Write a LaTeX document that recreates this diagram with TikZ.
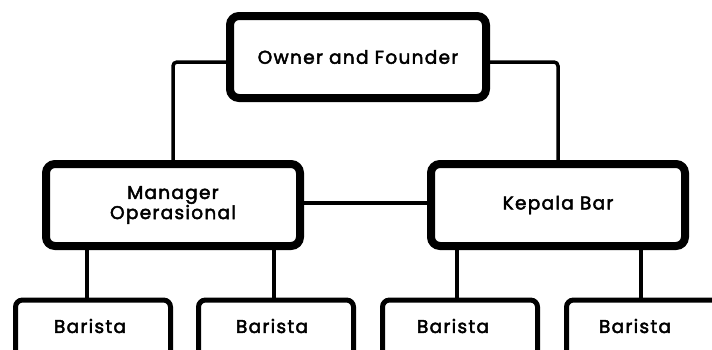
\documentclass[tikz,border=0pt]{standalone}
\usepackage{fontspec}
\setmainfont{Poppins}
\newcommand{\boxfont}{\fontsize{18.5}{18}\selectfont\addfontfeature{LetterSpace=7,FakeBold=2.5}}
\begin{document}
\begin{tikzpicture}[x=1pt,y=-1pt,
  bigbox/.style={draw,line width=8pt,rounded corners=9pt,minimum width=254pt,minimum height=82pt,align=center,font=\boxfont},
  smallbox/.style={draw,line width=5pt,rounded corners=7pt,minimum width=155pt,minimum height=70pt},
  conn/.style={line width=3.5pt,rounded corners=4pt}]
\useasboundingbox (0,0) rectangle (712,349);
\clip (0,0) rectangle (712,349);
\node [bigbox,minimum width=256pt] (owner) at (358,57) {Owner and Founder};
\node [bigbox] (manager) at (173,205) {Manager\\Operasional};
\node [bigbox] (kepala) at (558,205) {Kepala Bar};
\node [smallbox] (b1) at (93,335) {};
\node [smallbox] (b2) at (276,335) {};
\node [smallbox] (b3) at (460,335) {};
\node [smallbox] (b4) at (644,335) {};
\foreach \b/\x in {b1/90,b2/272,b3/453,b4/635}
  \node [font=\boxfont] at (\x,326) {Barista};
\draw [conn] ([yshift=-5pt]owner.west) -| (manager.north);
\draw [conn] ([yshift=-5pt]owner.east) -| (kepala.north);
\draw [conn] ([yshift=2pt]manager.east) -- ([yshift=2pt]kepala.west);
\draw [conn] (manager.south -| 87,0) -- (b1.north -| 87,0);
\draw [conn] (manager.south -| 274,0) -- (b2.north -| 274,0);
\draw [conn] (kepala.south -| 457,0) -- (b3.north -| 457,0);
\draw [conn] (kepala.south -| 641,0) -- (b4.north -| 641,0);
\end{tikzpicture}
\end{document}
